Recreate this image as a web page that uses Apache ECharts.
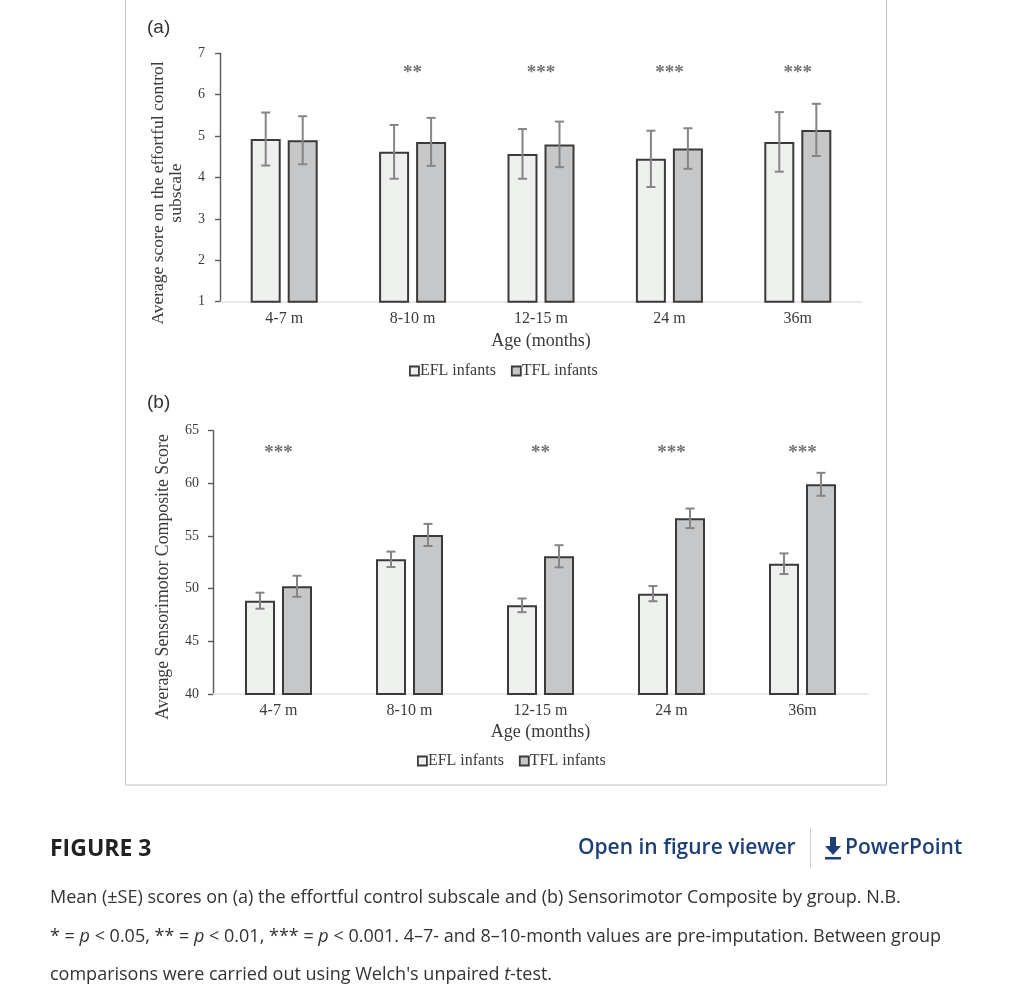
<!DOCTYPE html>
<html>
<head>
<meta charset="utf-8">
<script src="https://cdn.jsdelivr.net/npm/echarts@6/dist/echarts.min.js"></script>
<style>
html,body{margin:0;padding:0;background:#fff;}
#chart{width:1010px;height:990px;}
</style>
</head>
<body>
<div id="chart"></div>
<script>
// ---------- data ----------
var categories = ['4-7 m', '8-10 m', '12-15 m', '24 m', '36m'];
var seriesNames = ['EFL infants', 'TFL infants'];

// (a) effortful control subscale: means and SE
var ecEFL   = [4.93, 4.62, 4.57, 4.45, 4.86];
var ecEFLse = [0.64, 0.65, 0.60, 0.68, 0.72];
var ecTFL   = [4.90, 4.86, 4.80, 4.70, 5.15];
var ecTFLse = [0.58, 0.58, 0.55, 0.49, 0.63];
var ecSig   = ['', '**', '***', '***', '***'];
var ecSigLevel = 6.62;
var ecTicks = {min: 1, max: 7, interval: 1};
var ecYName = 'Average score on the effortful control\nsubscale';

// (b) sensorimotor composite: means and SE
var smEFL   = [48.86, 52.79, 48.42, 49.53, 52.37];
var smEFLse = [0.76, 0.73, 0.65, 0.72, 0.98];
var smTFL   = [50.23, 55.10, 53.08, 56.68, 59.91];
var smTFLse = [1.00, 1.05, 1.05, 0.93, 1.09];
var smSig   = ['***', '', '**', '***', '***'];
var smSigLevel = 63.3;
var smTicks = {min: 40, max: 65, interval: 5};
var smYName = 'Average Sensorimotor Composite Score';

// ---------- layout / style ----------
var SERIF = '"Liberation Serif", "DejaVu Serif", serif';
var SANS = '"Open Sans", "Noto Sans", sans-serif';
var BAR_W = 30, BAR_GAP_PX = 7;
var OFFSET = (BAR_W + BAR_GAP_PX) / 2;
var TEXT = '#3a3a3a';
var EFL_FILL = '#eef0ee', TFL_FILL = '#c6c7c9', BAR_BORDER = '#3a3a3a';
var ERR_COLOR = '#858585';

function errData(mean, se) {
  return mean.map(function (m, i) { return [i, m - se[i], m + se[i]]; });
}
function sigData(sig, level) {
  return sig.map(function (s, i) { return [i, level]; });
}

function errSeries(name, mean, se, gi, dir) {
  return {
    type: 'custom', name: name + ' SE', xAxisIndex: gi, yAxisIndex: gi, z: 5,
    silent: true,
    data: errData(mean, se),
    renderItem: function (params, api) {
      var lo = api.coord([api.value(0), api.value(1)]);
      var hi = api.coord([api.value(0), api.value(2)]);
      var x = lo[0] + dir * OFFSET;
      var cap = 4.5;
      var st = {stroke: ERR_COLOR, lineWidth: 2};
      return {type: 'group', children: [
        {type: 'line', shape: {x1: x, y1: lo[1], x2: x, y2: hi[1]}, style: st},
        {type: 'line', shape: {x1: x - cap, y1: lo[1], x2: x + cap, y2: lo[1]}, style: st},
        {type: 'line', shape: {x1: x - cap, y1: hi[1], x2: x + cap, y2: hi[1]}, style: st}
      ]};
    }
  };
}

function sigSeries(sig, level, gi) {
  return {
    type: 'custom', name: 'sig' + gi, xAxisIndex: gi, yAxisIndex: gi, z: 6, silent: true,
    data: sigData(sig, level),
    renderItem: function (params, api) {
      var p = api.coord([api.value(0), api.value(1)]);
      return {type: 'text', x: p[0], y: p[1] + 4, style: {
        text: sig[params.dataIndex], align: 'center', verticalAlign: 'middle',
        fill: '#727272', font: 'bold 19px ' + SERIF
      }};
    }
  };
}

function barSeries(name, data, gi, fill) {
  return {
    type: 'bar', name: name, xAxisIndex: gi, yAxisIndex: gi,
    barWidth: BAR_W, barGap: (BAR_GAP_PX / BAR_W * 100) + '%',
    data: data,
    itemStyle: {color: fill, borderColor: BAR_BORDER, borderWidth: 2},
    emphasis: {disabled: true}
  };
}

function xAxisCfg(gi, gap) {
  return {
    type: 'category', gridIndex: gi, data: categories,
    name: 'Age (months)', nameLocation: 'middle', nameGap: gap,
    nameTextStyle: {fontFamily: SERIF, fontSize: 18, color: TEXT},
    axisLine: {lineStyle: {color: '#e2e2e2', width: 1.5}},
    axisTick: {show: false},
    axisLabel: {fontFamily: SERIF, fontSize: 16, color: TEXT, margin: 9}
  };
}
function yAxisCfg(gi, ticks, margin) {
  return {
    type: 'value', gridIndex: gi, min: ticks.min, max: ticks.max, interval: ticks.interval,
    axisLine: {show: true, lineStyle: {color: '#5a5a5a', width: 1.4}},
    axisTick: {show: true, length: 5, lineStyle: {color: '#5a5a5a', width: 1.4}},
    splitLine: {show: false},
    axisLabel: {fontFamily: SERIF, fontSize: 14, color: TEXT, margin: margin}
  };
}
function legendCfg(left, top) {
  return {
    left: left, top: top, itemWidth: 9, itemHeight: 9, itemGap: 15,
    icon: 'rect', selectedMode: false,
    data: seriesNames,
    itemStyle: {borderColor: BAR_BORDER, borderWidth: 1.8},
    textStyle: {fontFamily: SERIF, fontSize: 16, color: TEXT, padding: [0, 0, 0, -4]}
  };
}
function yNameText(text, x, y, size) {
  return {type: 'text', x: x, y: y, rotation: Math.PI / 2, silent: true,
    style: {text: text, align: 'center', verticalAlign: 'middle',
      font: size + 'px ' + SERIF, fill: TEXT, lineHeight: 18}};
}

var chart = echarts.init(document.getElementById('chart'), null, {renderer: 'canvas'});
var option = {
  animation: false,
  backgroundColor: '#fff',
  grid: [
    {left: 220, right: 148, top: 53.3, bottom: 990 - 301.7},
    {left: 213, right: 142, top: 430.7, bottom: 990 - 694}
  ],
  xAxis: [xAxisCfg(0, 31), xAxisCfg(1, 29)],
  yAxis: [yAxisCfg(0, ecTicks, 15), yAxisCfg(1, smTicks, 14)],
  legend: [legendCfg(404, 358), legendCfg(412, 748)],
  series: [
    barSeries(seriesNames[0], ecEFL, 0, EFL_FILL),
    barSeries(seriesNames[1], ecTFL, 0, TFL_FILL),
    errSeries(seriesNames[0], ecEFL, ecEFLse, 0, -1),
    errSeries(seriesNames[1], ecTFL, ecTFLse, 0, 1),
    sigSeries(ecSig, ecSigLevel, 0),
    barSeries(seriesNames[0], smEFL, 1, EFL_FILL),
    barSeries(seriesNames[1], smTFL, 1, TFL_FILL),
    errSeries(seriesNames[0], smEFL, smEFLse, 1, -1),
    errSeries(seriesNames[1], smTFL, smTFLse, 1, 1),
    sigSeries(smSig, smSigLevel, 1)
  ],
  graphic: [
    {type: 'rect', shape: {x: 125.5, y: -5, width: 761, height: 790}, z: -10, silent: true,
      style: {fill: 'none', stroke: '#c4c4c4', lineWidth: 1}},
    yNameText(ecYName, 167, 193, 17.5),
    yNameText(smYName, 163, 577, 17.8),
    {type: 'text', x: 147, y: 28, silent: true, style: {text: '(a)', font: '19px "Liberation Sans", Arial, sans-serif', fill: '#333', verticalAlign: 'middle'}},
    {type: 'text', x: 147, y: 403, silent: true, style: {text: '(b)', font: '19px "Liberation Sans", Arial, sans-serif', fill: '#333', verticalAlign: 'middle'}},
    {type: 'text', x: 50, y: 849, silent: true, style: {text: 'FIGURE 3', font: 'bold 23px ' + SANS, fill: '#222', verticalAlign: 'middle'}},
    {type: 'text', x: 578, y: 848, silent: true, style: {text: 'Open in figure viewer', font: '600 21px ' + SANS, fill: '#1d3f78', verticalAlign: 'middle'}},
    {type: 'line', silent: true, shape: {x1: 810.5, y1: 828, x2: 810.5, y2: 868}, style: {stroke: '#cfcfcf', lineWidth: 1}},
    {type: 'polygon', silent: true, shape: {points: [[830, 837], [836, 837], [836, 846], [841, 846], [833, 855], [825, 846], [830, 846]]}, style: {fill: '#1d3f78'}},
    {type: 'rect', silent: true, shape: {x: 825, y: 857, width: 16, height: 2.5}, style: {fill: '#1d3f78'}},
    {type: 'text', x: 845, y: 848, silent: true, style: {text: 'PowerPoint', font: '600 21px ' + SANS, fill: '#1d3f78', verticalAlign: 'middle'}},
    {type: 'text', x: 50, y: 898, silent: true, style: {text: 'Mean (\u00b1SE) scores on (a) the effortful control subscale and (b) Sensorimotor Composite by group. N.B.', font: '18px ' + SANS, fill: '#333', verticalAlign: 'middle'}},
    {type: 'text', x: 50, y: 937, silent: true, style: {
      text: '* = {i|p} < 0.05, ** = {i|p} < 0.01, *** = {i|p} < 0.001. 4\u20137- and 8\u201310-month values are pre-imputation. Between group',
      font: '18px ' + SANS, fill: '#333', verticalAlign: 'middle',
      rich: {i: {fontStyle: 'italic', fontFamily: SANS, fontSize: 18, fill: '#333'}}}},
    {type: 'text', x: 50, y: 975, silent: true, style: {
      text: "comparisons were carried out using Welch's unpaired {i|t}-test.",
      font: '18px ' + SANS, fill: '#333', verticalAlign: 'middle',
      rich: {i: {fontStyle: 'italic', fontFamily: SANS, fontSize: 18, fill: '#333'}}}}
  ]
};
chart.setOption(option);
</script>
</body>
</html>
